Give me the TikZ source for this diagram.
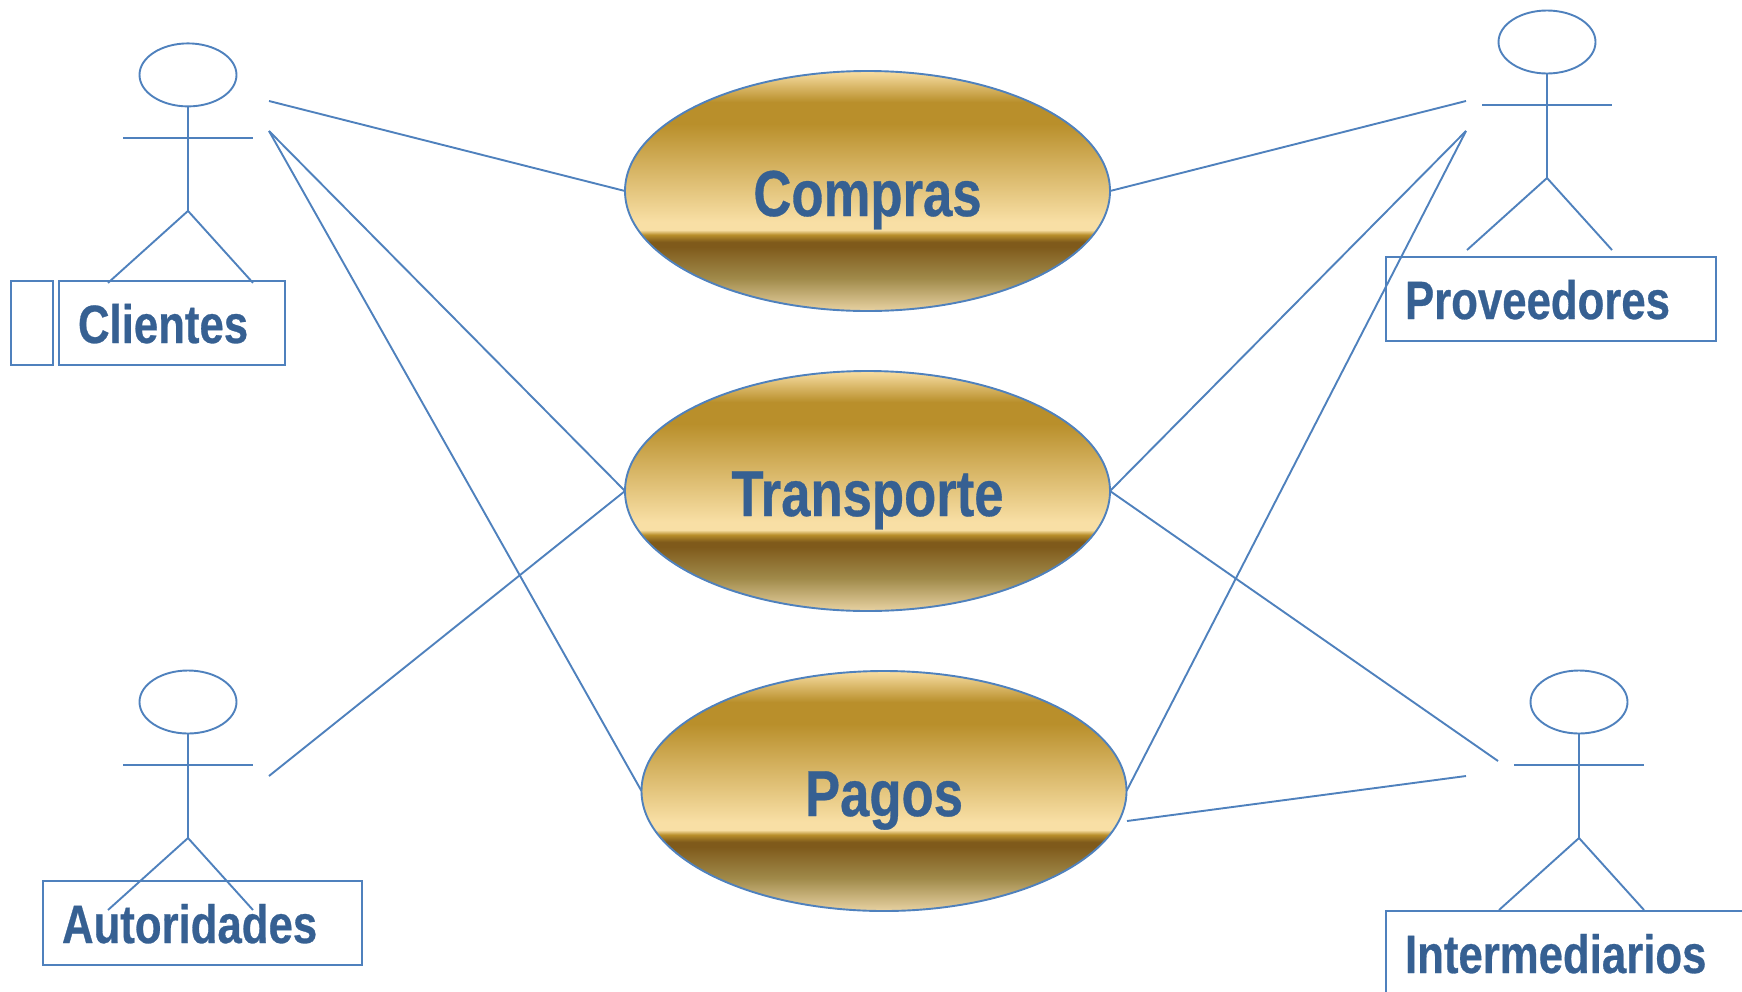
\documentclass[tikz,border=0pt]{standalone}
\usepackage{fontspec}
\usetikzlibrary{shapes.geometric}
\newfontfamily\lblfont[FakeStretch=0.81,BoldFeatures={FakeBold=0.5}]{Liberation Sans}
\definecolor{lineblue}{HTML}{4F81BD}
\definecolor{textblue}{HTML}{366092}
\definecolor{goldA}{HTML}{F8DFA5}
\definecolor{goldB}{HTML}{B98F2B}
\definecolor{goldC}{HTML}{7F5A1B}
\definecolor{goldD}{HTML}{A08A4A}
\definecolor{goldE}{HTML}{E8D2A2}
\pgfdeclareverticalshading{goldbar}{100bp}{
 color(0bp)=(goldE); color(25bp)=(goldE);
 color(31.8bp)=(goldD); color(38.4bp)=(goldC);
 color(39.4bp)=(goldC); color(40.9bp)=(goldB); color(41.9bp)=(goldA);
 color(43.6bp)=(goldA); color(64bp)=(goldB); color(68.5bp)=(goldB);
 color(75bp)=(goldA); color(100bp)=(goldA)}
\tikzset{
 x=1pt,y=-1pt,
 conn/.style={draw=lineblue,line width=1.9pt},
 usecase/.style={ellipse,draw=lineblue,line width=1.9pt,shade,shading=goldbar,
   minimum width=485pt,minimum height=240pt,inner sep=0pt,outer sep=0pt,
   text=textblue,font=\lblfont\bfseries\fontsize{65}{70}\selectfont,
   text height=50pt,text depth=0pt},
 head/.style={ellipse,draw=lineblue,line width=1.9pt,minimum width=97pt,minimum height=63pt,inner sep=0pt,outer sep=0pt},
 namebox/.style={rectangle,draw=lineblue,line width=1.9pt,anchor=north west,
   minimum height=84pt,inner ysep=0pt,inner xsep=19pt,outer sep=0pt,align=left,
   text=textblue,font=\lblfont\bfseries\fontsize{54}{60}\selectfont,
   text height=40pt,text depth=0pt},
}
\newcommand{\stickman}[3]{%
 \node[head] (#1head) at (#2,#3) {};
 \coordinate (#1hip) at (#2,#3+136);
 \coordinate (#1armL) at (#2-65,#3+63);
 \coordinate (#1armR) at (#2+65,#3+63);
 \coordinate (#1legL) at (#2-80,#3+208);
 \coordinate (#1legR) at (#2+65,#3+208);
 \draw[conn] (#1head.south) -- (#1hip);
 \draw[conn] (#1armL) -- (#1armR);
 \draw[conn] (#1legL) -- (#1hip) -- (#1legR);
}
\begin{document}
\begin{tikzpicture}
\path[use as bounding box,clip] (0,0) rectangle (1742,991);

\node[usecase] (compras) at (867.5,191) {Compras};
\node[usecase] (transporte) at (867.5,491) {Transporte};
\node[usecase] (pagos) at (884,791) {Pagos};

\stickman{cli}{188}{74.9}
\stickman{aut}{188}{702}
\stickman{pro}{1547}{42}
\stickman{int}{1579}{702}

\node[rectangle,draw=lineblue,line width=1.9pt,outer sep=0pt,anchor=north west,minimum width=42pt,minimum height=84pt] (blank) at (11,281) {};
\node[namebox,text width=188pt] (clientes) at (59,281) {Clientes};
\node[namebox,text width=281pt] (autoridades) at (43,881) {Autoridades};
\node[namebox,text width=292pt] (proveedores) at (1386,257) {Proveedores};
\node[namebox,text width=370pt] (intermediarios) at (1386,911) {Intermediarios};

\coordinate (cliA) at (269,101);
\coordinate (cliB) at (269,131);
\coordinate (autA) at (269,776);
\coordinate (proA) at (1466,101);
\coordinate (proB) at (1466,131);
\coordinate (intA) at (1498,761);
\coordinate (intB) at (1466,776);
\coordinate (pagosR) at (1127,821);

\draw[conn] (cliA) -- (compras.west);
\draw[conn] (cliB) -- (transporte.west);
\draw[conn] (cliB) -- (pagos.west);
\draw[conn] (autA) -- (transporte.west);
\draw[conn] (proA) -- (compras.east);
\draw[conn] (proB) -- (transporte.east);
\draw[conn] (proB) -- (pagos.east);
\draw[conn] (intA) -- (transporte.east);
\draw[conn] (intB) -- (pagosR);
\end{tikzpicture}
\end{document}
